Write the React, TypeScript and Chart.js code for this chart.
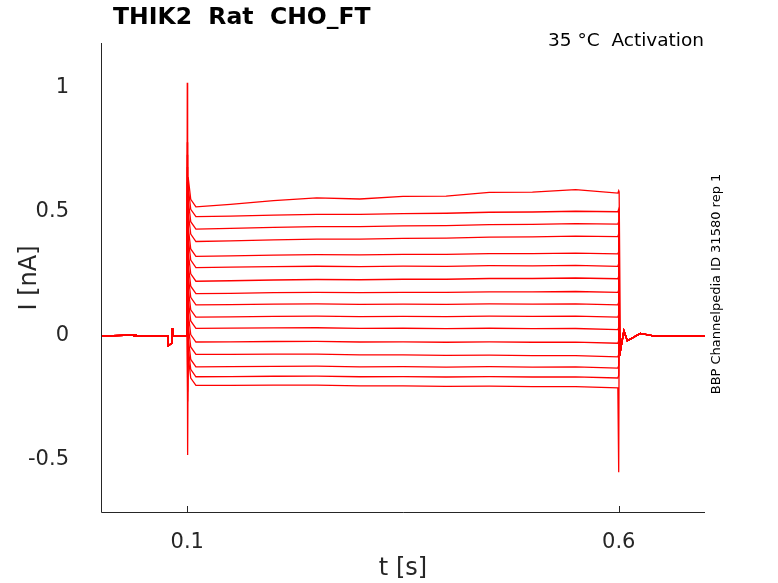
import React, { useEffect, useRef } from "react";
import { Chart, registerables } from "chart.js";
Chart.register(...registerables);

const levels = [0.52, 0.48, 0.43, 0.38, 0.32, 0.275, 0.22, 0.17, 0.125, 0.075, 0.03, -0.025, -0.075, -0.125, -0.165, -0.2];
const endLevels = [0.575, 0.5, 0.45, 0.4, 0.33, 0.28, 0.23, 0.175, 0.125, 0.075, 0.025, -0.03, -0.085, -0.13, -0.17, -0.21];
const midTimes = [0.15, 0.2, 0.25, 0.3, 0.35, 0.4, 0.45, 0.5, 0.55];
const wiggle = [0.005, 0.015, 0.02, 0.01, 0.015, 0.01, 0.02, 0.015, 0.02];
const xTicks = [0.1, 0.6];
const yTicks = [-0.5, 0, 0.5, 1];

function trace(i: number) {
  const L = levels[i], E = endLevels[i];
  const pts: { x: number; y: number }[] = [
    { x: 0, y: 0 }, { x: 0.04, y: 0.003 }, { x: 0.039, y: -0.002 }, { x: 0.0775, y: 0 },
    { x: 0.078, y: -0.04 }, { x: 0.082, y: -0.03 }, { x: 0.0825, y: 0.03 }, { x: 0.083, y: 0 },
    { x: 0.0995, y: 0 },
    { x: 0.1, y: i === 0 ? 1.02 : L + 0.3 },
    { x: 0.1004, y: i === levels.length - 1 ? -0.48 : L - 0.1 },
    { x: 0.101, y: L + 0.12 }, { x: 0.104, y: L + 0.03 }, { x: 0.11, y: L },
  ];
  midTimes.forEach((t, k) => {
    const f = (t - 0.11) / 0.49;
    pts.push({ x: t, y: L + (E - L) * f + (i === 0 ? wiggle[k] : wiggle[k] * 0.2) });
  });
  pts.push({ x: 0.599, y: E }, { x: 0.6, y: i === levels.length - 1 ? -0.55 : E + 0.01 },
    { x: 0.6005, y: i === 0 ? 0.58 : 0.03 }, { x: 0.602, y: -0.06 }, { x: 0.606, y: 0.02 },
    { x: 0.61, y: -0.02 }, { x: 0.625, y: 0.01 }, { x: 0.64, y: 0 }, { x: 0.7, y: 0 });
  return pts;
}

export default function App() {
  const ref = useRef<HTMLCanvasElement>(null);
  useEffect(() => {
    document.body.style.margin = "0";
    const font = { family: "DejaVu Sans", size: 21 };
    const textPlugin = {
      id: "txt",
      afterDraw(c: any) {
        const ctx = c.ctx;
        const a = c.chartArea;
        ctx.save();
        ctx.strokeStyle = "#262626";
        ctx.lineWidth = 1;
        ctx.beginPath();
        ctx.moveTo(a.left + 0.5, a.top); ctx.lineTo(a.left + 0.5, a.bottom + 0.5); ctx.lineTo(a.right, a.bottom + 0.5);
        ctx.stroke();
        [0.1, 0.6].forEach((v) => {
          const x = Math.round(c.scales.x.getPixelForValue(v)) + 0.5;
          ctx.beginPath(); ctx.moveTo(x, a.bottom); ctx.lineTo(x, a.bottom - 6); ctx.stroke();
        });
        ctx.fillStyle = "#262626";
        ctx.font = "24px DejaVu Sans";
        ctx.textAlign = "center";
        ctx.textBaseline = "middle";
        ctx.save();
        ctx.translate(30, 278);
        ctx.rotate(-Math.PI / 2);
        ctx.fillText("I [nA]", 0, 0);
        ctx.restore();
        ctx.textAlign = "left";
        ctx.fillStyle = "#000";
        ctx.font = "bold 23.5px DejaVu Sans";
        ctx.fillText("THIK2  Rat  CHO_FT", 113, 18);
        ctx.font = "18.5px DejaVu Sans";
        ctx.textAlign = "right";
        ctx.fillText("35 °C  Activation", 704, 41);
        ctx.translate(717, 284);
        ctx.rotate(-Math.PI / 2);
        ctx.textAlign = "center";
        ctx.font = "13px DejaVu Sans";
        ctx.fillText("BBP Channelpedia ID 31580 rep 1", 0, 0);
        ctx.restore();
      },
    };
    const chart = new Chart(ref.current!, {
      type: "line",
      data: {
        datasets: levels.map((_, i) => ({
          data: trace(i), borderColor: "#ff0000", borderWidth: 1.3, pointRadius: 0, tension: 0,
        })),
      },
      options: {
        animation: false, responsive: false, parsing: false as any,
        layout: { padding: { left: 0, right: 73, top: 43, bottom: 0 } },
        plugins: { legend: { display: false }, tooltip: { enabled: false } },
        scales: {
          x: {
            type: "linear", min: 0, max: 0.7,
            afterBuildTicks: (s: any) => { s.ticks = xTicks.map((v) => ({ value: v })); },
            afterFit: (s: any) => { s.height = 71; },
            ticks: { font, color: "#262626", maxRotation: 0, padding: 10, callback: (v: any) => String(v) },
            grid: { display: false },
            border: { display: false },
            title: { display: true, text: "t [s]", font: { family: "DejaVu Sans", size: 24 }, color: "#262626", padding: { top: 4, bottom: 0 } },
          },
          y: {
            min: -0.71, max: 1.18,
            afterBuildTicks: (s: any) => { s.ticks = yTicks.map((v) => ({ value: v })); },
            afterFit: (s: any) => { s.width = 101; },
            ticks: { font, color: "#262626", padding: 24, callback: (v: any) => String(v) },
            grid: { display: false },
            border: { display: false },
          },
        },
      },
      plugins: [textPlugin],
    });
    return () => chart.destroy();
  }, []);
  return <canvas ref={ref} width={778} height={583} style={{ display: "block" }} />;
}
